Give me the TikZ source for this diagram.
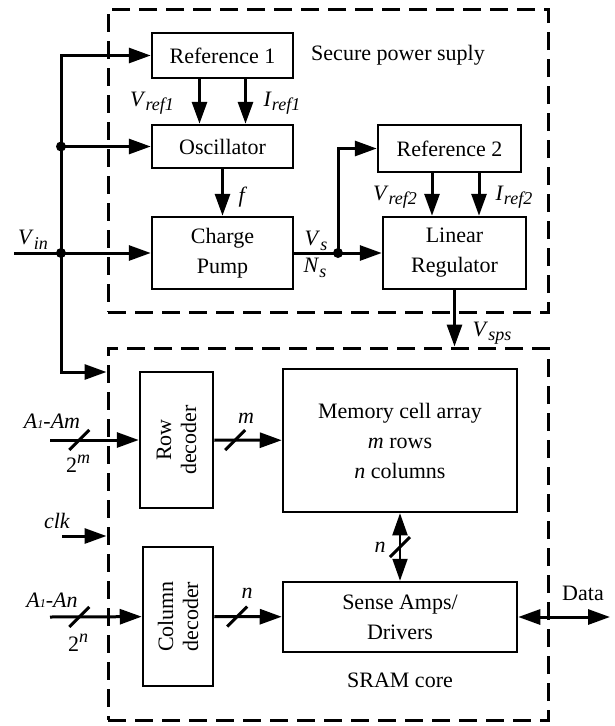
\documentclass[tikz,border=0pt]{standalone}
\usepackage{fontspec}
\setmainfont{Liberation Serif}
\usetikzlibrary{arrows.meta,calc}
\newcommand{\sub}[2]{\textit{#1}\raisebox{-0.45ex}{\fontsize{18}{18}\selectfont\textit{#2}}}
\newcommand{\sups}[2]{#1\raisebox{0.9ex}{\fontsize{18}{18}\selectfont\textit{#2}}}
\newcommand{\addr}[1]{\textit{A}{\fontsize{12}{12}\selectfont\textit{1}}\textit{-A#1}}

\begin{document}
\begin{tikzpicture}[
  x=1pt, y=-1pt,
  font=\fontsize{22}{30}\selectfont,
  blk/.style={draw, line width=2.5pt, align=center, inner sep=0pt},
  area/.style={draw, line width=3pt, dash pattern=on 18pt off 9pt, inner sep=0pt},
  arrow/.style={-{Triangle[length=22pt,width=15pt]}, line width=3pt},
  dblarrow/.style={{Triangle[length=22pt,width=15pt]}-{Triangle[length=22pt,width=15pt]}, line width=3pt},
  slash/.style={line width=3pt}
]
\useasboundingbox (0,0) rectangle (614,726);
\node[area, minimum width=440pt, minimum height=303pt] (sps) at (328,160.5) {};
\node[area, minimum width=440pt, minimum height=372pt] (sram) at (328,534) {};
\node[blk, minimum width=141pt, minimum height=45pt] (ref1) at (222.5,55.5) {Reference 1};
\node[blk, minimum width=141pt, minimum height=43pt] (osc) at (222.5,146.5) {Oscillator};
\node[blk, minimum width=141pt, minimum height=72pt] (cp) at (222.5,253) {Charge\\Pump};
\node[blk, minimum width=143pt, minimum height=47pt] (ref2) at (449.5,148.5) {Reference 2};
\node[blk, minimum width=143pt, minimum height=72pt] (linreg) at (454.5,253) {Linear\\Regulator};
\node[blk, rotate=90, minimum width=136pt, minimum height=73pt, font=\fontsize{22}{25}\selectfont] (rowdec) at (176.5,440) {Row\\decoder};
\node[blk, rotate=90, minimum width=139pt, minimum height=70pt, font=\fontsize{22}{25}\selectfont] (coldec) at (178,616.5) {Column\\decoder};
\node[blk, minimum width=234pt, minimum height=143pt] (mem) at (400,440.5) {Memory cell array\\\textit{m} rows\\\textit{n} columns};
\node[blk, minimum width=234pt, minimum height=70pt] (sense) at (400,617) {Sense Amps/\\Drivers};

\coordinate (vin) at (14,253);
\coordinate (jtop) at (61,55.5);
\coordinate (josc) at (61,146.5);
\coordinate (jin) at (61,253);
\coordinate (jbot) at (61,372);
\coordinate (jvs) at (338,253);
\coordinate (am) at (50,440);
\coordinate (an) at (50,617);
\coordinate (clk) at (62,536);
\coordinate (data) at (610,617);

% supply side
\draw[dblarrow] (jtop -| ref1.west) -- (jtop) -- (jbot) -- (jbot -| sram.west);
\draw[arrow] (josc) -- (josc -| osc.west);
\draw[arrow] (vin) -- (cp);
\fill (josc) circle (5pt);
\fill (jin) circle (5pt);
\draw[arrow] ([xshift=-23pt]ref1.south) -- ([xshift=-23pt]osc.north);
\draw[arrow] ([xshift=23pt]ref1.south) -- ([xshift=23pt]osc.north);
\draw[arrow] (osc) -- (cp);
\draw[line width=3pt] (cp) -- (jvs);
\draw[arrow] (jvs) -- (linreg);
\draw[arrow] (jvs) |- (ref2);
\fill (jvs) circle (5pt);
\draw[arrow] ([xshift=-17.5pt]ref2.south) -- ([xshift=-17.5pt]ref2.south |- linreg.north);
\draw[arrow] ([xshift=29.5pt]ref2.south) -- ([xshift=29.5pt]ref2.south |- linreg.north);
\draw[arrow] (linreg) -- (linreg |- sram.north);

% memory side
\draw[arrow] (am) -- coordinate[pos=0.33] (amcut) (rowdec);
\draw[arrow] (rowdec) -- coordinate[pos=0.31] (mcut) (mem);
\draw[arrow] (an) -- coordinate[pos=0.32] (ancut) (coldec);
\draw[arrow] (coldec) -- coordinate[pos=0.34] (ncut) (sense);
\draw[arrow] (clk) -- (clk -| sram.west);
\draw[dblarrow, line width=2pt] (mem) -- coordinate (nvcut) (sense);
\draw[dblarrow] (sense) -- (data);
\foreach \c in {amcut,mcut,ancut,ncut,nvcut}
  \draw[slash] ($(\c)+(-10,10)$) -- ($(\c)+(10,-10)$);

% labels
\node (spslbl) at (398,55) {Secure power suply};
\node (sramlbl) at (400,680) {SRAM core};
\node (vref1) at (152,103) {\sub{V}{ref1}};
\node (iref1) at (282,103) {\sub{I}{ref1}};
\node (flbl) at (243,197) {\textit{f}};
\node (vinlbl) at (33,240) {\sub{V}{in}};
\node (vslbl) at (316,241) {\sub{V}{s}};
\node (nslbl) at (315,268) {\sub{N}{s}};
\node (vref2) at (395,197) {\sub{V}{ref2}};
\node (iref2) at (514,197) {\sub{I}{ref2}};
\node (vsps) at (492,333) {\sub{V}{sps}};
\node (amlbl) at (52,421) {\addr{m}};
\node (twom) at (78,464) {\sups{2}{m}};
\node (mlbl) at (246,418) {\textit{m}};
\node (clklbl) at (57,521) {\textit{clk}};
\node (anlbl) at (52,600) {\addr{n}};
\node (twon) at (78,643) {\sups{2}{n}};
\node (nlbl) at (247,593) {\textit{n}};
\node (nvlbl) at (380,547) {\textit{n}};
\node (datalbl) at (583,593) {Data};
\end{tikzpicture}
\end{document}
